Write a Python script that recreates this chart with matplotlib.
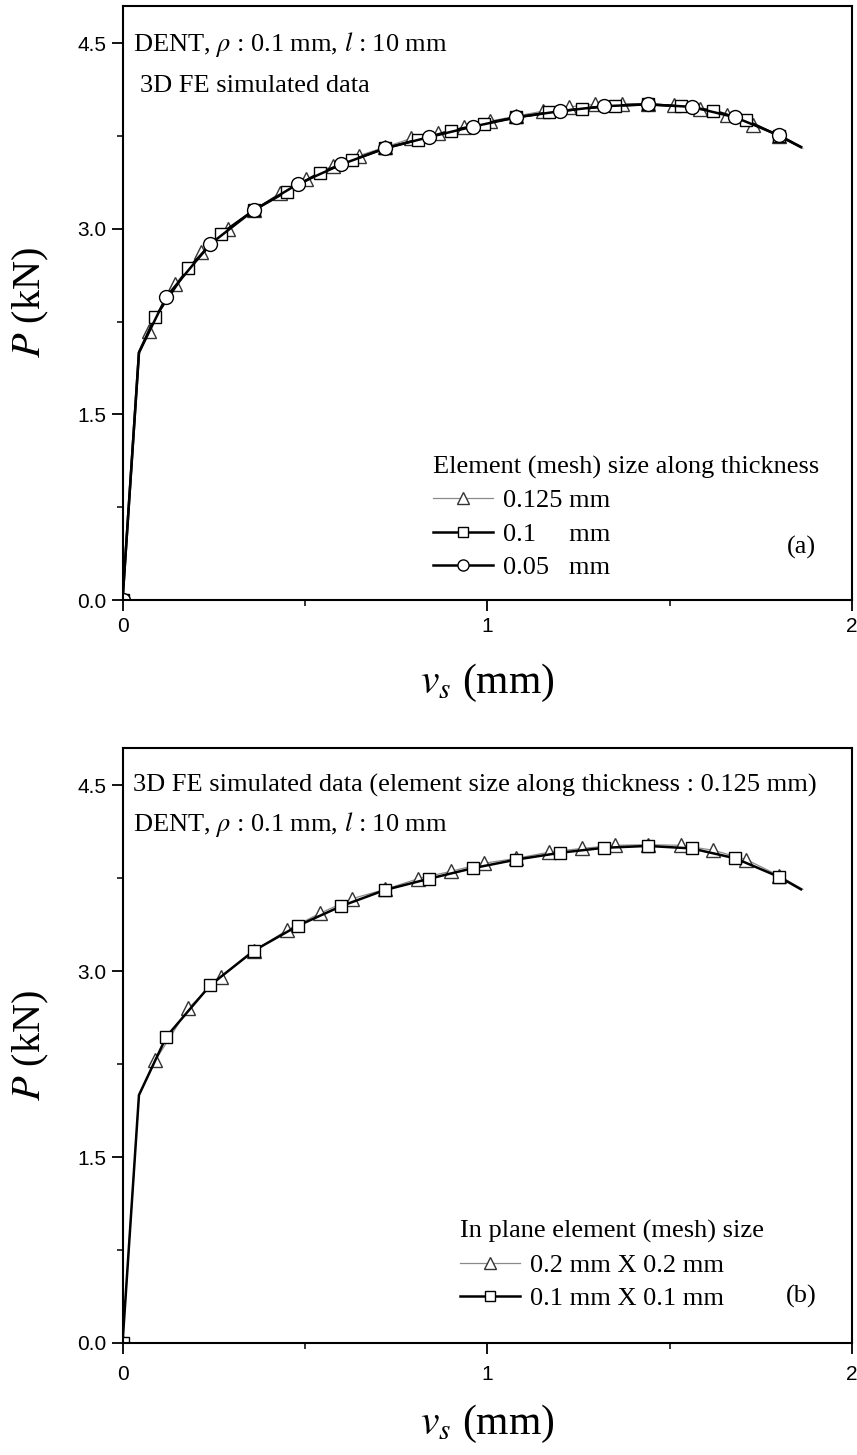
"""
Load-displacement curves from 3D FE runs of the DENT specimen,
mesh sensitivity along the thickness (a) and in plane (b).
"""
import matplotlib
matplotlib.use("Agg")
import matplotlib.pyplot as plt
from matplotlib.ticker import MultipleLocator, FormatStrFormatter

plt.rcParams["font.family"] = "Liberation Serif"
plt.rcParams["mathtext.fontset"] = "stix"

# ── (a) element size along thickness ─────────────────────────────────────────
# each series: origin, knee of the elastic branch, sampled points, curve end
A_TRI_X = [0.0, 0.045, 0.072, 0.144, 0.216, 0.288, 0.36, 0.432, 0.504, 0.576,
           0.648, 0.72, 0.792, 0.864, 0.936, 1.008, 1.08, 1.152, 1.224, 1.296,
           1.368, 1.44, 1.512, 1.584, 1.656, 1.728, 1.80, 1.865]
A_TRI_Y = [0.0, 2.00, 2.17, 2.55, 2.81, 3.00, 3.15, 3.29, 3.40, 3.51,
           3.59, 3.66, 3.73, 3.77, 3.82, 3.87, 3.91, 3.95, 3.985, 4.005,
           4.01, 4.01, 3.998, 3.97, 3.92, 3.84, 3.75, 3.65]

A_SQ_X = [0.0, 0.045, 0.09, 0.18, 0.27, 0.36, 0.45, 0.54, 0.63, 0.72, 0.81,
          0.90, 0.99, 1.08, 1.17, 1.26, 1.35, 1.44, 1.53, 1.62, 1.71, 1.80, 1.86]
A_SQ_Y = [0.0, 2.00, 2.29, 2.68, 2.96, 3.15, 3.30, 3.45, 3.555, 3.65, 3.72,
          3.79, 3.85, 3.90, 3.94, 3.97, 3.995, 4.005, 3.99, 3.955, 3.875, 3.75, 3.66]

A_CIR_X = [0.0, 0.045, 0.12, 0.24, 0.36, 0.48, 0.60, 0.72, 0.84, 0.96, 1.08,
           1.20, 1.32, 1.44, 1.56, 1.68, 1.80, 1.86]
A_CIR_Y = [0.0, 2.00, 2.45, 2.875, 3.15, 3.36, 3.52, 3.65, 3.74, 3.825, 3.90,
           3.95, 3.99, 4.005, 3.985, 3.90, 3.755, 3.66]

A_LABELS = ["0.125 mm", "0.1     mm", "0.05   mm"]

# ── (b) in-plane element size ────────────────────────────────────────────────
B_TRI_X = [0.0, 0.045, 0.09, 0.18, 0.27, 0.36, 0.45, 0.54, 0.63, 0.72, 0.81,
           0.90, 0.99, 1.08, 1.17, 1.26, 1.35, 1.44, 1.53, 1.62, 1.71, 1.80, 1.865]
B_TRI_Y = [0.0, 2.00, 2.28, 2.70, 2.955, 3.16, 3.33, 3.465, 3.585, 3.66, 3.745,
           3.805, 3.87, 3.91, 3.96, 3.99, 4.015, 4.02, 4.015, 3.975, 3.90, 3.77, 3.66]

B_SQ_X = [0.0, 0.045, 0.12, 0.24, 0.36, 0.48, 0.60, 0.72, 0.84, 0.96, 1.08,
          1.20, 1.32, 1.44, 1.56, 1.68, 1.80, 1.86]
B_SQ_Y = [0.0, 2.00, 2.47, 2.885, 3.165, 3.365, 3.525, 3.655, 3.745, 3.83, 3.90,
          3.955, 3.995, 4.01, 3.99, 3.91, 3.76, 3.66]

B_LABELS = ["0.2 mm X 0.2 mm", "0.1 mm X 0.1 mm"]

TEXT_SIZE = 19
GRAY = "#8a8a8a"
MARKER_SIZE = {"^": 10, "s": 9, "o": 10}


def marks(xs):
    # marker on the origin and every sampled point, not on the knee or the end
    return [0] + list(range(2, len(xs) - 1))


def draw_series(ax, x, y, marker, label, thin=False):
    ax.plot(x, y, color=GRAY if thin else "black", lw=0.9 if thin else 1.8,
            marker=marker, markevery=marks(x), ms=MARKER_SIZE[marker],
            mfc="white", mec="#333333" if thin else "black", mew=1.0,
            label=label)


def add_legend(ax, anchor, title):
    ax.legend(loc="lower left", bbox_to_anchor=anchor, title=title,
              fontsize=TEXT_SIZE, title_fontsize=TEXT_SIZE,
              frameon=False, borderpad=0, borderaxespad=0,
              handlelength=2.3, handletextpad=0.35, labelspacing=0.38,
              markerscale=0.8, alignment="left")


def style_axes(ax, label_pad):
    ax.set_xlim(0, 2)
    ax.set_ylim(0, 4.8)
    ax.xaxis.set_major_locator(MultipleLocator(1))
    ax.xaxis.set_minor_locator(MultipleLocator(0.5))
    ax.yaxis.set_major_locator(MultipleLocator(1.5))
    ax.yaxis.set_minor_locator(MultipleLocator(0.75))
    ax.yaxis.set_major_formatter(FormatStrFormatter("%.1f"))
    ax.tick_params(which="major", direction="out", length=8, width=1.3,
                   labelsize=15, labelfontfamily="Liberation Sans",
                   top=False, right=False)
    ax.tick_params(axis="x", which="major", pad=label_pad)
    ax.tick_params(which="minor", direction="out", length=4, width=1.1,
                   top=False, right=False)
    for sp in ax.spines.values():
        sp.set_linewidth(1.5)
    ax.set_xlabel(r"$v_s$ (mm)", fontsize=30)
    ax.set_ylabel(r"$P$ (kN)", fontsize=29)
    ax.yaxis.set_label_coords(-0.098, 0.5)


fig = plt.figure(figsize=(8.57, 14.55), dpi=100)
ax_a = fig.add_axes([0.143, 0.5876, 0.8512, 0.4083])
ax_b = fig.add_axes([0.143, 0.0770, 0.8512, 0.4089])

# ── (a) ──────────────────────────────────────────────────────────────────────
draw_series(ax_a, A_TRI_X, A_TRI_Y, "^", A_LABELS[0], thin=True)
draw_series(ax_a, A_SQ_X, A_SQ_Y, "s", A_LABELS[1])
draw_series(ax_a, A_CIR_X, A_CIR_Y, "o", A_LABELS[2])
style_axes(ax_a, 4)
ax_a.xaxis.set_label_coords(0.5, -0.105)

ax_a.text(0.014, 0.935, r"DENT, $\rho$ : 0.1 mm, $l$ : 10 mm",
          transform=ax_a.transAxes, fontsize=TEXT_SIZE, va="center")
ax_a.text(0.024, 0.866, "3D FE simulated data",
          transform=ax_a.transAxes, fontsize=TEXT_SIZE, va="center")
add_legend(ax_a, (0.425, 0.035), "Element (mesh) size along thickness")
ax_a.text(0.93, 0.088, "(a)", transform=ax_a.transAxes,
          fontsize=TEXT_SIZE, ha="center", va="center")

# ── (b) ──────────────────────────────────────────────────────────────────────
draw_series(ax_b, B_TRI_X, B_TRI_Y, "^", B_LABELS[0], thin=True)
draw_series(ax_b, B_SQ_X, B_SQ_Y, "s", B_LABELS[1])
style_axes(ax_b, 8)
ax_b.xaxis.set_label_coords(0.5, -0.1)

ax_b.text(0.014, 0.9375,
          "3D FE simulated data (element size along thickness : 0.125 mm)",
          transform=ax_b.transAxes, fontsize=TEXT_SIZE, va="center")
ax_b.text(0.014, 0.872, r"DENT, $\rho$ : 0.1 mm, $l$ : 10 mm",
          transform=ax_b.transAxes, fontsize=TEXT_SIZE, va="center")
add_legend(ax_b, (0.462, 0.055), "In plane element (mesh) size")
ax_b.text(0.93, 0.079, "(b)", transform=ax_b.transAxes,
          fontsize=TEXT_SIZE, ha="center", va="center")

fig.savefig("out.png", dpi=100)
